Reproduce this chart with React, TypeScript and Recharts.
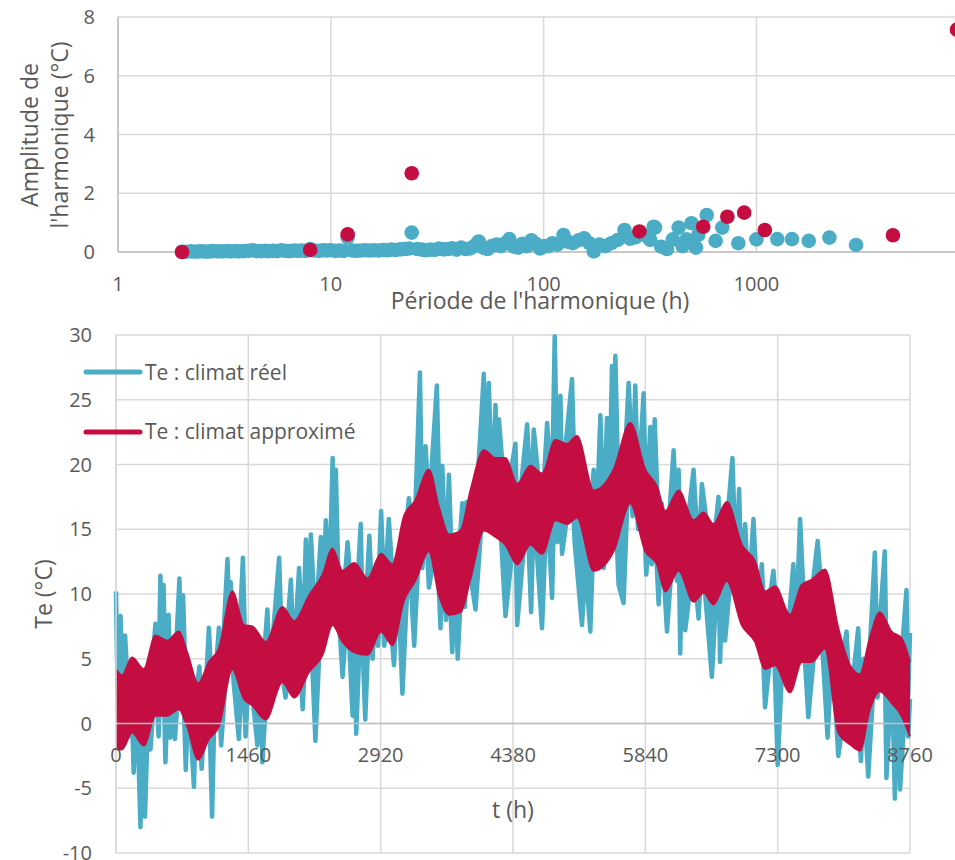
import {
  ScatterChart,
  Scatter,
  ComposedChart,
  Area,
  XAxis,
  YAxis,
  CartesianGrid,
  ReferenceLine,
} from 'recharts';

const FONT = '"Open Sans", "Noto Sans", sans-serif';
const TEXT = '#595959';
const GRID = '#D9D9D9';
const AXIS = '#BFBFBF';
const BLUE = '#4BACC6';
const RED = '#C40E42';

// ---- top chart: harmonic amplitude vs period (log scale) ----
const blueHarmPeriod = [
  2, 2.1, 2.2, 2.3, 2.4, 2.5, 2.6, 2.7, 2.8, 2.95, 3.1, 3.25, 3.4, 3.55, 3.7, 3.9, 4.1, 4.3, 4.5, 4.7,
  4.9, 5.1, 5.35, 5.6, 5.85, 6.1, 6.4, 6.7, 7, 7.3, 7.6, 8, 8.4, 8.8, 9.2, 9.6, 10,
  10.5, 11, 11.5, 12, 12.6, 13.2, 13.8, 14.5, 15.2, 16, 16.8, 17.6, 18.4, 19.3, 20.2, 21.2, 22.2, 23.3,
  24, 25.5, 26.8, 28, 29.4, 30.8, 32.3, 33.9, 35.5, 37.2, 39, 41, 43, 45, 47.2, 49.5, 52, 54.5, 57, 60,
  63, 66, 69, 72.5, 76, 79.6, 83.5, 87.6, 91.8, 96.3, 101,
  105, 110, 116, 124, 130, 137, 146, 155, 164, 172, 183, 195, 208, 223, 240, 255, 270, 296, 317, 329,
  334, 357, 380, 405, 431, 450, 470, 495, 520, 533, 584, 643, 691, 822, 1000, 1253, 1469, 1762, 2203, 2939,
];
const blueHarmAmp = [
  0.01, 0.01, 0.02, 0.01, 0.02, 0.02, 0.01, 0.02, 0.03, 0.02, 0.02, 0.03, 0.02, 0.03, 0.02, 0.03, 0.04, 0.06, 0.03, 0.03,
  0.04, 0.03, 0.04, 0.03, 0.06, 0.04, 0.03, 0.05, 0.04, 0.05, 0.04, 0.1, 0.05, 0.04, 0.06, 0.05, 0.06,
  0.04, 0.05, 0.04, 0.5, 0.05, 0.04, 0.05, 0.06, 0.05, 0.06, 0.05, 0.07, 0.06, 0.08, 0.07, 0.09, 0.1, 0.12,
  0.66, 0.1, 0.08, 0.06, 0.08, 0.07, 0.12, 0.09, 0.1, 0.13, 0.08, 0.15, 0.1, 0.12, 0.2, 0.36, 0.15, 0.1, 0.2, 0.25,
  0.2, 0.3, 0.44, 0.18, 0.15, 0.28, 0.2, 0.4, 0.28, 0.12, 0.2,
  0.2, 0.3, 0.25, 0.58, 0.35, 0.3, 0.4, 0.47, 0.3, 0.02, 0.25, 0.2, 0.3, 0.41, 0.75, 0.45, 0.5, 0.58, 0.41, 0.86,
  0.83, 0.18, 0.1, 0.43, 0.83, 0.2, 0.43, 0.98, 0.15, 0.58, 1.26, 0.38, 0.83, 0.3, 0.43, 0.44, 0.44, 0.38, 0.49, 0.24,
];
const redHarmPeriod = [2, 8, 12, 24, 282, 562, 730, 876, 1095, 4380, 8760];
const redHarmAmp = [0, 0.07, 0.6, 2.68, 0.7, 0.86, 1.2, 1.34, 0.75, 0.57, 7.57];
const periodTicks = [1, 10, 100, 1000];
const ampTicks = [0, 2, 4, 6, 8];

// ---- bottom chart: outdoor temperature over one year ----
// approximated climate: envelope of the daily oscillation band
const redT = [
  0, 66, 177, 306, 435, 564, 693, 785, 907, 1025, 1136, 1283, 1412, 1504, 1652, 1836, 1965, 2131, 2279, 2389,
  2500, 2629, 2776, 2924, 3049, 3177, 3300, 3452, 3563, 3673, 3801, 3911, 4058, 4187, 4297, 4426, 4572, 4701,
  4848, 4976, 5086, 5270, 5490, 5674, 5840, 5968, 6060, 6207, 6372, 6482, 6592, 6739, 6904, 7051, 7161, 7271,
  7436, 7565, 7675, 7822, 7969, 8097, 8207, 8317, 8427, 8556, 8666, 8760,
];
const redHigh = [
  4.2, 3.7, 5.1, 4.2, 6.8, 6.4, 7.1, 5.5, 3.1, 4.75, 5.8, 10.2, 7.6, 7.5, 6.3, 9.0, 7.9, 9.9, 11.5, 13.5,
  11.8, 12.4, 11.2, 13.1, 12.3, 16.0, 17.2, 19.6, 16.7, 14.6, 14.9, 18.0, 21.1, 20.5, 20.5, 18.5, 19.9, 19.3,
  21.9, 21.6, 22.2, 18.0, 19.6, 23.2, 19.6, 18.3, 16.4, 18.0, 15.7, 16.3, 15.4, 17.1, 13.8, 12.5, 10.2, 10.6,
  8.4, 10.7, 11.1, 11.9, 7.35, 4.5, 3.8, 6.6, 8.6, 7.1, 6.6, 4.75,
];
const redLow = [
  -2.0, -2.0, -0.7, -1.7, 0.6, 0.6, 1.1, -0.2, -2.8, -1.2, -0.2, 4.2, 1.9, 1.4, 0.3, 3.2, 2.0, 4.0, 5.3, 7.6,
  6.3, 5.5, 5.3, 7.1, 6.05, 9.5, 11.0, 13.3, 9.9, 8.4, 8.6, 11.2, 14.9, 14.4, 13.8, 12.3, 13.8, 13.1,
  15.7, 15.4, 15.9, 11.8, 13.3, 17.0, 13.3, 12.3, 10.2, 11.8, 9.4, 10.1, 9.2, 11.0, 7.6, 6.3, 4.2, 4.5,
  2.4, 4.75, 4.75, 5.8, -0.7, -1.6, -2.1, 1.1, 2.5, 1.6, 0.6, -1.0,
];
// real climate: top and bottom of the hourly trace, read spike by spike
const blueT = [
  0, 20, 50, 80, 100, 140, 170, 195, 230, 270, 300, 320, 360, 380, 435, 470, 490, 510, 525, 545,
  580, 600, 630, 650, 700, 720, 740, 770, 800, 860, 880, 920, 945, 985, 1025, 1060, 1090, 1135, 1160, 1230,
  1255, 1265, 1300, 1355, 1400, 1430, 1470, 1560, 1600, 1615, 1670, 1700, 1800, 1830, 1870, 1930, 1960, 2020, 2060, 2095,
  2120, 2150, 2200, 2260, 2280, 2315, 2350, 2390, 2410, 2425, 2460, 2500, 2555, 2610, 2630, 2650, 2700, 2720, 2750, 2795,
  2830, 2870, 2890, 2925, 2960, 3010, 3067, 3110, 3160, 3232, 3290, 3353, 3380, 3416, 3452, 3540, 3580, 3600, 3640, 3673,
  3710, 3740, 3770, 3820, 3850, 3867, 3966, 4058, 4080, 4113, 4150, 4187, 4210, 4224, 4297, 4407, 4426, 4536, 4580, 4609,
  4700, 4756, 4811, 4840, 4870, 4903, 4921, 5031, 5060, 5141, 5180, 5233, 5270, 5300, 5344, 5380, 5417, 5440, 5472, 5490,
  5509, 5545, 5600, 5656, 5700, 5729, 5760, 5821, 5850, 5895, 5910, 5943, 5987, 6020, 6079, 6152, 6190, 6207, 6225, 6250,
  6280, 6372, 6427, 6464, 6574, 6647, 6665, 6700, 6720, 6801, 6840, 6875, 6900, 6941, 6980, 7033, 7080, 7125, 7161, 7253,
  7300, 7360, 7400, 7473, 7500, 7547, 7600, 7638, 7741, 7800, 7851, 7900, 7969, 8060, 8100, 8189, 8218, 8250, 8299, 8372,
  8400, 8482, 8500, 8560, 8593, 8620, 8650, 8721, 8740, 8760,
];
const blueHigh = [
  10.2, 1.0, 8.3, 0.9, 6.8, 1.8, 4, 2.1, 3, 1.5, 2, 1.4, 3, 2.7, 7.7, 3.6, 11.4, 3.6, 10.7, 3.5,
  8.4, 3.7, 5, 4, 11.2, 3.7, 9.9, 2.9, 4, 1.1, 2, 4.4, 0.7, 2, 7.4, 2.1, 3, 7.4, 3.5, 12.7,
  6.4, 10.9, 6.9, 5.9, 12.8, 4.7, 7, 4, 6, 3.6, 8.8, 4.1, 12.8, 6, 5.8, 11.1, 5, 12, 6.1, 14.2,
  6.8, 14.6, 7.6, 14.4, 8.4, 15.7, 9.8, 20.5, 10.3, 19.6, 9.5, 9.05, 14, 8.95, 8.95, 8.9, 15.4, 8.5, 8.4, 14.5,
  9, 12.3, 9.7, 16.4, 9.8, 15.8, 9.7, 12, 12.3, 17.4, 14, 27.1, 15.3, 21.4, 16.45, 26.1, 13, 19.9, 12, 19.2,
  11.6, 12, 11.7, 17, 13, 17.1, 15.9, 27, 17.9, 26.3, 17.6, 24.6, 17.4, 23.5, 17.15, 21.6, 15.4, 23.1, 16.8, 22.7,
  16.2, 23.2, 18.1, 29.9, 18.75, 25.3, 18.6, 26.6, 19, 17.8, 16.9, 15.7, 19.6, 15.1, 23.8, 15.6, 23.6, 16.1, 27.6, 16.45,
  28.4, 17.5, 18.6, 26.3, 19.6, 26.1, 18.3, 25.5, 16.4, 22.9, 15.8, 23.5, 14.9, 17, 13.5, 21.1, 14.7, 19.6, 14.6, 15,
  13.9, 19.6, 12.9, 18.5, 12.4, 17.5, 13.2, 15, 13.8, 20.5, 12, 18.1, 10.8, 15.4, 10, 15.8, 8.8, 12.3, 7.2, 11.8,
  7.2, 6.4, 5.9, 12.3, 6.6, 15.8, 7.8, 7.8, 14.1, 8.7, 7.8, 6, 3.3, 7.1, 1.45, 7.35, 1.1, 5, 3.4, 13.2,
  5.2, 13.3, 4.9, 4.3, 4.1, 3.9, 3.7, 10.3, 2.2, 7.0,
];
const blueLow = [
  1.1, 1.0, 0.9, 0, 1.3, -1, 2.1, -3.8, 1.8, -8, 1.3, -7.2, 2.3, -2, 3.7, -1, 3.6, 2, 3.5, -3,
  3.6, -1.1, 3.9, -1.2, 4, 2, 3.4, -3.6, 2.3, -4.9, 0.7, 0.35, -3.5, 1.3, 1.8, -7.2, 2.4, 2.8, -1.7, 5.6,
  5, 6.6, 3, -1.2, 5, -1, 4.55, -1.7, 3.7, -3, 3.6, 2, 5.6, 4, 2, 5.3, 2.2, 5.6, 1.1, 6.5,
  5, 7.1, -1.35, 8.2, 6, 9.1, 8, 10.5, 10, 10.1, 8, 3.6, 9, 0.6, 8, -0.8, 8.6, 6, 0.3, 8.5,
  5, 9.5, 6, 10.1, 6, 9.4, 4.5, 11, 2.3, 13.3, 6, 15, 12, 15.9, 10.5, 14, 7.35, 12.7, 8, 11.5,
  5.5, 11.6, 5, 12.2, 9, 13.5, 8.8, 18, 16, 17.8, 15, 17.45, 15, 17.3, 8.3, 15.6, 7.6, 16.5, 8.6, 16.7,
  7.35, 17.2, 9.7, 18.7, 14, 18.7, 13.1, 18.8, 14, 7.6, 12, 7.1, 14.9, 12, 15.4, 12, 15.9, 13, 16.3, 15,
  16.8, 10.7, 9.3, 19.8, 16, 19, 15, 16.9, 11.5, 15.9, 12.3, 15.5, 9.2, 14.2, 7.1, 14.3, 11, 14.9, 5.4, 14.3,
  7.2, 12.55, 8.1, 13.1, 3.6, 13, 4.75, 13.6, 6.4, 12.8, 12, 11.3, 10, 10.4, 8, 9.6, 6, 7.9, 1.25, 7.5,
  -3.2, 6, 3, 6.1, 4, 7.4, 5, 0.5, 8.3, 5, -1.1, 5.6, -2.5, 2, 0, 0.95, -2.9, 2, -4.1, 4.7,
  2, 5, -4.2, 4, -5.8, 3, -5.1, 2.9, -1, 1.9,
];
const hourTicks = [0, 1460, 2920, 4380, 5840, 7300, 8760];
const teTicks = [-10, -5, 0, 5, 10, 15, 20, 25, 30];

const blueHarm = blueHarmPeriod.map((period, i) => ({ period, amp: blueHarmAmp[i] }));
const redHarm = redHarmPeriod.map((period, i) => ({ period, amp: redHarmAmp[i] }));
const blueRows = blueT.map((t, i) => ({ t, band: [blueLow[i], blueHigh[i]] }));
const redRows = redT.map((t, i) => ({ t, band: [redLow[i], redHigh[i]] }));

const tickStyle = { fill: TEXT, fontSize: 20, fontFamily: FONT };
const titleStyle = { fill: TEXT, fontSize: 23, fontFamily: FONT };

// bottom chart geometry (chart coords)
const B_TOP = 15;
const B_HEIGHT = 518;
const ZERO_Y = B_TOP + (B_HEIGHT * 30) / 40;

const dot = (color: string) => (p: any) => <circle cx={p.cx} cy={p.cy} r={7.3} fill={color} />;

const HourTick = (p: any) => (
  <text x={p.x} y={ZERO_Y + 31} dy="0.35em" textAnchor="middle" {...tickStyle}>
    {p.payload.value}
  </text>
);

export default function App() {
  return (
    <div style={{ position: 'absolute', left: 0, top: 0, width: 955, height: 860, overflow: 'hidden', background: '#fff' }}>
      <div style={{ position: 'absolute', left: 0, top: 0 }}>
        <ScatterChart width={960} height={320} margin={{ top: 17, right: 3, bottom: 0, left: 0 }}>
          <CartesianGrid stroke={GRID} strokeWidth={1.5} />
          <XAxis
            type="number"
            dataKey="period"
            scale="log"
            domain={[1, 8760]}
            allowDataOverflow
            ticks={periodTicks}
            interval={0}
            height={68}
            tick={tickStyle}
            tickLine={false}
            tickSize={0}
            tickMargin={25}
            axisLine={{ stroke: AXIS, strokeWidth: 1.5 }}
            label={() => (
              <text x={540} y={309} textAnchor="middle" {...titleStyle}>
                Période de l'harmonique (h)
              </text>
            )}
          />
          <YAxis
            type="number"
            dataKey="amp"
            domain={[0, 8]}
            ticks={ampTicks}
            interval={0}
            width={118}
            tick={tickStyle}
            tickLine={false}
            tickSize={0}
            tickMargin={23}
            axisLine={{ stroke: AXIS, strokeWidth: 1.5 }}
            label={() => (
              <g>
                <text transform="rotate(-90, 37.5, 135)" x={37.5} y={135} textAnchor="middle" {...titleStyle}>
                  Amplitude de
                </text>
                <text transform="rotate(-90, 67.5, 135)" x={67.5} y={135} textAnchor="middle" {...titleStyle}>
                  l'harmonique (°C)
                </text>
              </g>
            )}
          />
          <Scatter data={blueHarm} fill={BLUE} shape={dot(BLUE)} isAnimationActive={false} />
          <Scatter data={redHarm} fill={RED} shape={dot(RED)} isAnimationActive={false} />
        </ScatterChart>
      </div>

      <div style={{ position: 'absolute', left: 0, top: 320 }}>
        <ComposedChart width={955} height={540} margin={{ top: B_TOP, right: 45, bottom: 0, left: 0 }}>
          <CartesianGrid stroke={GRID} strokeWidth={1.5} />
          <XAxis
            type="number"
            dataKey="t"
            domain={[0, 8760]}
            ticks={hourTicks}
            interval={0}
            height={7}
            axisLine={false}
            tickLine={false}
            tick={HourTick}
            label={() => (
              <text x={513} y={498} textAnchor="middle" {...titleStyle}>
                t (h)
              </text>
            )}
          />
          <YAxis
            type="number"
            domain={[-10, 30]}
            ticks={teTicks}
            interval={0}
            width={116}
            tick={tickStyle}
            tickLine={false}
            tickSize={0}
            tickMargin={24}
            axisLine={{ stroke: GRID, strokeWidth: 1.5 }}
            label={() => (
              <text transform="rotate(-90, 51.5, 274)" x={51.5} y={274} textAnchor="middle" {...titleStyle}>
                Te (°C)
              </text>
            )}
          />
          <ReferenceLine y={0} stroke={AXIS} strokeWidth={1.5} />
          <Area
            data={blueRows}
            dataKey="band"
            type="linear"
            stroke={BLUE}
            strokeWidth={4.5}
            strokeLinejoin="round"
            fill={BLUE}
            fillOpacity={1}
            isAnimationActive={false}
          />
          <Area
            data={redRows}
            dataKey="band"
            type="monotone"
            stroke={RED}
            strokeWidth={2}
            fill={RED}
            fillOpacity={1}
            isAnimationActive={false}
          />
        </ComposedChart>
      </div>

      <svg style={{ position: 'absolute', left: 0, top: 320 }} width={420} height={140}>
        <line x1={86} y1={52} x2={140} y2={52} stroke={BLUE} strokeWidth={5} strokeLinecap="round" />
        <text x={145} y={59.5} fill={TEXT} fontSize={21} fontFamily={FONT}>
          Te : climat réel
        </text>
        <line x1={86} y1={112} x2={140} y2={112} stroke={RED} strokeWidth={5} strokeLinecap="round" />
        <text x={145} y={119} fill={TEXT} fontSize={21} fontFamily={FONT}>
          Te : climat approximé
        </text>
      </svg>
    </div>
  );
}
